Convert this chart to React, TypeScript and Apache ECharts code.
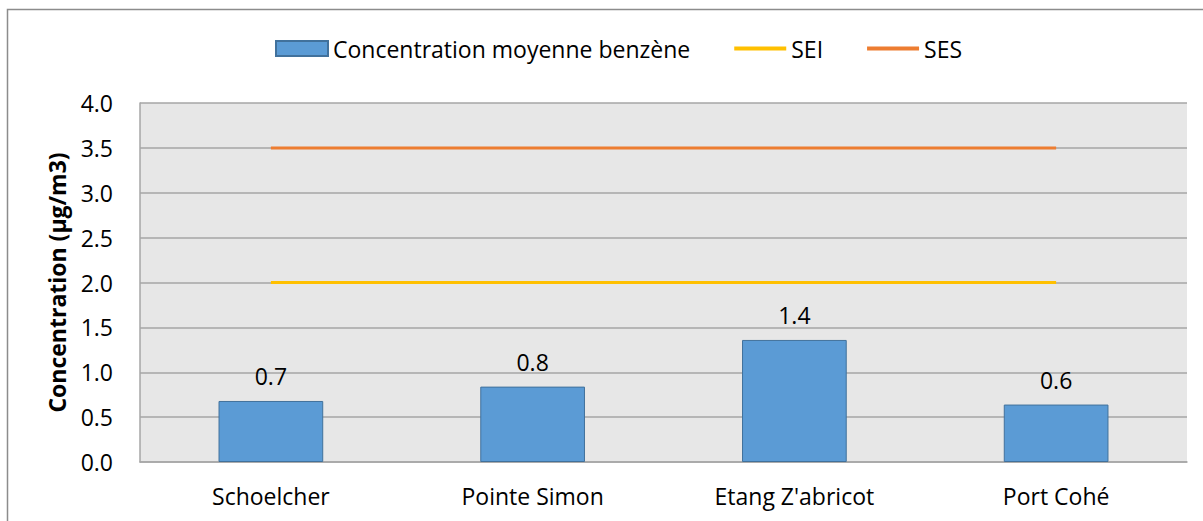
import React, { useEffect, useRef } from "react";
import * as echarts from "echarts";

const categories = ["Schoelcher", "Pointe Simon", "Etang Z'abricot", "Port Cohé"];
const benzene = [0.68, 0.84, 1.36, 0.64];
const sei = [2, 2, 2, 2];
const ses = [3.5, 3.5, 3.5, 3.5];
const seriesNames = ["Concentration moyenne benzène", "SEI", "SES"];

const FONT = "'Open Sans', sans-serif";
const FS = 23;

export default function App() {
  const ref = useRef<HTMLDivElement>(null);
  useEffect(() => {
    if (!ref.current) return;
    const chart = echarts.init(ref.current, null, { renderer: "svg" });
    chart.setOption({
      animation: false,
      backgroundColor: "#ffffff",
      textStyle: { fontFamily: FONT },
      graphic: [
        {
          type: "rect",
          shape: { x: 7.5, y: 9.5, width: 1220, height: 540 },
          style: { fill: "none", stroke: "#8c8c8c", lineWidth: 1.5 },
          silent: true,
        },
      ],
      legend: {
        top: 32,
        left: 270,
        itemGap: 42,
        itemWidth: 52,
        itemHeight: 15,
        textStyle: { fontFamily: FONT, fontSize: FS, color: "#000" },
        data: [
          { name: seriesNames[0], icon: "rect" },
          { name: seriesNames[1], itemStyle: { opacity: 0 }, lineStyle: { width: 4 } },
          { name: seriesNames[2], itemStyle: { opacity: 0 }, lineStyle: { width: 4 } },
        ],
      },
      grid: { left: 140, top: 103, right: 16, bottom: 59, backgroundColor: "#e7e7e7", show: true, borderWidth: 0 },
      xAxis: {
        type: "category",
        data: categories,
        boundaryGap: true,
        axisLine: { show: true, lineStyle: { color: "#a6a6a6", width: 1.5 } },
        axisTick: { show: false },
        axisLabel: { fontFamily: FONT, fontSize: FS, color: "#000", margin: 22 },
      },
      yAxis: {
        type: "value",
        min: 0,
        max: 4,
        interval: 0.5,
        name: "Concentration (µg/m3)",
        nameLocation: "middle",
        nameGap: 72,
        nameTextStyle: { fontFamily: FONT, fontSize: FS, fontWeight: "bold", color: "#000" },
        axisLine: { show: true, lineStyle: { color: "#a6a6a6", width: 1.5 } },
        axisTick: { show: false },
        splitLine: { show: true, lineStyle: { color: "#a6a6a6", width: 1.5 } },
        axisLabel: {
          fontFamily: FONT,
          fontSize: FS,
          color: "#000",
          margin: 27,
          formatter: (v: number) => v.toFixed(1),
        },
      },
      series: [
        {
          name: seriesNames[0],
          type: "bar",
          data: benzene,
          barWidth: "40%",
          itemStyle: { color: "#5b9bd5", borderColor: "#41719c", borderWidth: 1 },
          label: {
            show: true,
            position: "top",
            distance: 13,
            fontFamily: FONT,
            fontSize: FS,
            color: "#000",
            formatter: (p: any) => p.value.toFixed(1),
          },
        },
        {
          name: seriesNames[1],
          type: "line",
          data: sei,
          symbol: "none",
          lineStyle: { color: "#ffc000", width: 3 },
          itemStyle: { color: "#ffc000" },
        },
        {
          name: seriesNames[2],
          type: "line",
          data: ses,
          symbol: "none",
          lineStyle: { color: "#ed7d31", width: 3 },
          itemStyle: { color: "#ed7d31" },
        },
      ],
    });
    return () => chart.dispose();
  }, []);
  return (
    <div
      ref={ref}
      style={{ position: "fixed", left: 0, top: 0, width: 1203, height: 521 }}
    />
  );
}
